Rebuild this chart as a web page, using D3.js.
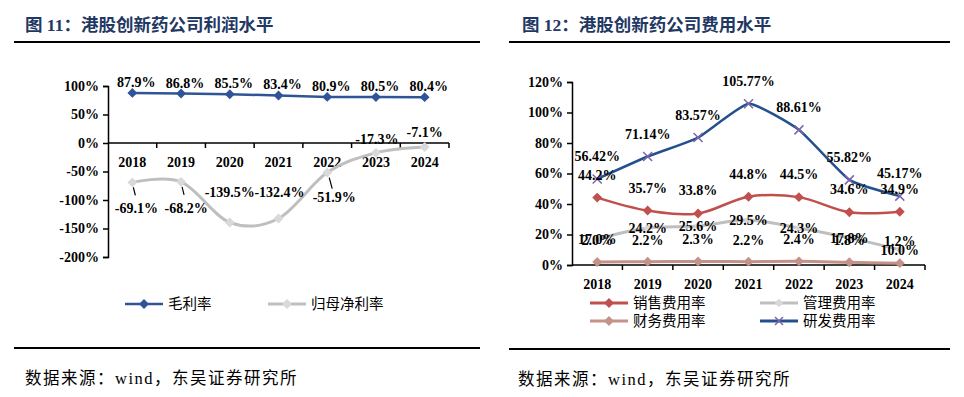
<!DOCTYPE html>
<html>
<head>
<meta charset="utf-8">
<script src="https://cdn.jsdelivr.net/npm/d3@7"></script>
<style>
  body { margin: 0; background: #fff; }
  svg { display: block; }
  .num { font-family: "Liberation Serif", "Times New Roman", serif; font-weight: bold; fill: #000; }
</style>
</head>
<body>
<script>
// ---- data ----
var years = ["2018", "2019", "2020", "2021", "2022", "2023", "2024"];

// figure 11
var grossMargin = [87.9, 86.8, 85.5, 83.4, 80.9, 80.5, 80.4];
var netMargin = [-69.1, -68.2, -139.5, -132.4, -51.9, -17.3, -7.1];
var leftTicks = [100, 50, 0, -50, -100, -150, -200];

// figure 12
var salesRate = [44.2, 35.7, 33.8, 44.8, 44.5, 34.6, 34.9];
var adminRate = [17.0, 24.2, 25.6, 29.5, 24.3, 17.8, 10.0];
var financeRate = [2.0, 2.2, 2.3, 2.2, 2.4, 1.8, 1.2];
var rdRate = [56.42, 71.14, 83.57, 105.77, 88.61, 55.82, 45.17];
var rightTicks = [0, 20, 40, 60, 80, 100, 120];

var W = 964, H = 397;
var svg = d3.select("body").append("svg").attr("width", W).attr("height", H);

var navy = "#1f3864";
var blue = "#2f5597";
var gray = "#bfbfbf";
var lightGray = "#d9d9d9";
var red = "#c0504d";
var rose = "#c4918b";
var rdBlue = "#24508f";
var purple = "#7a66a8";

var smooth = d3.curveCardinal.tension(0);

function header(x0, x1, tx, label) {
  svg.append("text").attr("x", tx).attr("y", 31)
    .attr("font-family", "'Liberation Serif', 'Noto Sans CJK SC', serif")
    .attr("font-weight", "bold").attr("font-size", 17.5).attr("fill", navy)
    .text(label);
  svg.append("line").attr("x1", x0).attr("x2", x1).attr("y1", 42).attr("y2", 42)
    .attr("stroke", "#000").attr("stroke-width", 2);
}

function footer(x0, x1, yLine, tx) {
  svg.append("line").attr("x1", x0).attr("x2", x1).attr("y1", yLine).attr("y2", yLine)
    .attr("stroke", "#000").attr("stroke-width", 2);
  svg.append("text").attr("x", tx).attr("y", yLine + 36)
    .attr("font-family", "'Liberation Serif', 'Noto Sans CJK SC', serif")
    .attr("font-size", 16.5).attr("letter-spacing", 1.5).attr("fill", "#000")
    .text("数据来源：wind，东吴证券研究所");
}

function diamond(g, cx, cy, size, color) {
  g.append("path")
    .attr("d", d3.symbol(d3.symbolSquare, size * size)())
    .attr("transform", "translate(" + cx + "," + cy + ") rotate(45)")
    .attr("fill", color);
}

function cross(g, cx, cy, r, color) {
  var p = d3.path();
  p.moveTo(cx - r, cy - r); p.lineTo(cx + r, cy + r);
  p.moveTo(cx - r, cy + r); p.lineTo(cx + r, cy - r);
  g.append("path").attr("d", p.toString()).attr("stroke", color)
    .attr("stroke-width", 1.5).attr("fill", "none");
}

// ================= Figure 11 =================
header(14, 480, 25, "图 11：港股创新药公司利润水平");
footer(14, 480, 348, 25);

var g1 = svg.append("g");
var x1 = d3.scaleBand().domain(years).range([108, 449]);
var y1 = d3.scaleLinear().domain([-200, 100]).range([257, 86]);
var cx1 = function (i) { return x1(years[i]) + x1.bandwidth() / 2; };

// y axis
g1.append("g").attr("transform", "translate(108,0)")
  .call(d3.axisLeft(y1).tickValues(leftTicks).tickSize(5).tickFormat(function (d) { return d + "%"; }))
  .call(function (a) {
    a.select(".domain").attr("stroke", "#000").attr("stroke-width", 1.5);
    a.selectAll(".tick line").attr("stroke", "#000").attr("stroke-width", 1.5);
    a.selectAll(".tick text").attr("class", "num").attr("font-size", 14).attr("x", -9);
  });

// x axis at 0
var zero1 = y1(0);
g1.append("line").attr("x1", 108).attr("x2", 449).attr("y1", zero1).attr("y2", zero1)
  .attr("stroke", "#000").attr("stroke-width", 1.5);
years.forEach(function (yr, i) {
  var bx = x1(yr) + x1.bandwidth();
  g1.append("line").attr("x1", bx).attr("x2", bx).attr("y1", zero1).attr("y2", zero1 + 5)
    .attr("stroke", "#000").attr("stroke-width", 1.5);
  g1.append("text").attr("class", "num").attr("font-size", 14)
    .attr("x", cx1(i)).attr("y", zero1 + 24).attr("text-anchor", "middle").text(yr);
});

// net margin (smoothed, gray)
g1.append("path").datum(netMargin)
  .attr("d", d3.line().x(function (d, i) { return cx1(i); }).y(function (d) { return y1(d); }).curve(smooth))
  .attr("fill", "none").attr("stroke", gray).attr("stroke-width", 3);
netMargin.forEach(function (v, i) { diamond(g1, cx1(i), y1(v), 7, lightGray); });

// gross margin
g1.append("path").datum(grossMargin)
  .attr("d", d3.line().x(function (d, i) { return cx1(i); }).y(function (d) { return y1(d); }))
  .attr("fill", "none").attr("stroke", blue).attr("stroke-width", 2.5);
grossMargin.forEach(function (v, i) { diamond(g1, cx1(i), y1(v), 7, blue); });

// labels
grossMargin.forEach(function (v, i) {
  g1.append("text").attr("class", "num").attr("font-size", 14).attr("text-anchor", "middle")
    .attr("x", cx1(i) + 4).attr("y", y1(v) - 6).text(v.toFixed(1) + "%");
});
// net labels: offsets below / above point
var netLabelDx = [4, 5, 0, 1, 7, 1, 0];
var netLabelDy = [26, 26, 23, 17, 24, -14, -15];
netMargin.forEach(function (v, i) {
  var px = cx1(i), py = y1(v);
  var lx = px + netLabelDx[i], ly = py + netLabelDy[i];
  if (i === 2 || i === 3) ly = y1(v) - (v === -139.5 ? 31 : 26);
  g1.append("text").attr("class", "num").attr("font-size", 14).attr("text-anchor", "middle")
    .attr("x", lx).attr("y", ly + 5).text(v.toFixed(1) + "%");
});
// leader lines
[[0, 1, 3], [1, 1, 3], [4, 2, 5]].forEach(function (t) {
  var i = t[0], px = cx1(i), py = y1(netMargin[i]);
  g1.append("line").attr("x1", px + t[1]).attr("y1", py + 5)
    .attr("x2", px + t[2]).attr("y2", py + (i === 4 ? 16 : 13))
    .attr("stroke", "#000").attr("stroke-width", 1.2);
});

// legend 1
var lg1 = svg.append("g");
lg1.append("line").attr("x1", 125).attr("x2", 163).attr("y1", 304).attr("y2", 304).attr("stroke", blue).attr("stroke-width", 2.5);
diamond(lg1, 144, 304, 7, blue);
lg1.append("text").attr("x", 168).attr("y", 309).attr("font-family", "'Noto Sans CJK SC', sans-serif").attr("font-size", 14.5).text("毛利率");
lg1.append("line").attr("x1", 268).attr("x2", 306).attr("y1", 304).attr("y2", 304).attr("stroke", gray).attr("stroke-width", 3);
diamond(lg1, 287, 304, 7, lightGray);
lg1.append("text").attr("x", 311).attr("y", 309).attr("font-family", "'Noto Sans CJK SC', sans-serif").attr("font-size", 14.5).text("归母净利率");

// ================= Figure 12 =================
header(509, 950, 522, "图 12：港股创新药公司费用水平");
footer(509, 950, 349, 518);

var g2 = svg.append("g");
var x2 = d3.scaleBand().domain(years).range([572, 925]);
var y2 = d3.scaleLinear().domain([0, 120]).range([265, 82]);
var cx2 = function (i) { return x2(years[i]) + x2.bandwidth() / 2; };

g2.append("g").attr("transform", "translate(572,0)")
  .call(d3.axisLeft(y2).tickValues(rightTicks).tickSize(5).tickFormat(function (d) { return d + "%"; }))
  .call(function (a) {
    a.select(".domain").attr("stroke", "#000").attr("stroke-width", 1.5);
    a.selectAll(".tick line").attr("stroke", "#000").attr("stroke-width", 1.5);
    a.selectAll(".tick text").attr("class", "num").attr("font-size", 14).attr("x", -9);
  });
g2.append("line").attr("x1", 572).attr("x2", 925).attr("y1", 265).attr("y2", 265)
  .attr("stroke", "#000").attr("stroke-width", 1.5);
years.forEach(function (yr, i) {
  var bx = x2(yr) + x2.bandwidth();
  g2.append("line").attr("x1", bx).attr("x2", bx).attr("y1", 265).attr("y2", 270)
    .attr("stroke", "#000").attr("stroke-width", 1.5);
  g2.append("text").attr("class", "num").attr("font-size", 14)
    .attr("x", cx2(i)).attr("y", 289).attr("text-anchor", "middle").text(yr);
});

function seriesLine(data, color, width, curve) {
  var ln = d3.line().x(function (d, i) { return cx2(i); }).y(function (d) { return y2(d); });
  if (curve) ln.curve(curve);
  g2.append("path").datum(data).attr("d", ln)
    .attr("fill", "none").attr("stroke", color).attr("stroke-width", width);
}

seriesLine(financeRate, rose, 3, smooth);
financeRate.forEach(function (v, i) { diamond(g2, cx2(i), y2(v), 7, rose); });
seriesLine(adminRate, gray, 3, smooth);
adminRate.forEach(function (v, i) { diamond(g2, cx2(i), y2(v), 6, lightGray); });
seriesLine(salesRate, red, 2.5, smooth);
salesRate.forEach(function (v, i) { diamond(g2, cx2(i), y2(v), 7, red); });
seriesLine(rdRate, rdBlue, 2.5, d3.curveCardinal.tension(0.55));
rdRate.forEach(function (v, i) { cross(g2, cx2(i), y2(v), 4.5, purple); });

function labels(data, dy, digits) {
  data.forEach(function (v, i) {
    g2.append("text").attr("class", "num").attr("font-size", 14).attr("text-anchor", "middle")
      .attr("x", cx2(i)).attr("y", y2(v) + dy + 5).text(v.toFixed(digits) + "%");
  });
}
labels(rdRate, -23, 2);
labels(salesRate, -23, 1);
labels(adminRate, 0, 1);
labels(financeRate, -22, 1);

// legend 2
var lg2 = svg.append("g");
var legendItems = [
  { name: "销售费用率", color: red, mark: "d", x: 590, y: 303 },
  { name: "管理费用率", color: gray, mark: "g", x: 760, y: 303 },
  { name: "财务费用率", color: rose, mark: "d", x: 590, y: 321 },
  { name: "研发费用率", color: rdBlue, mark: "x", x: 760, y: 321 }
];
legendItems.forEach(function (it) {
  lg2.append("line").attr("x1", it.x).attr("x2", it.x + 38).attr("y1", it.y).attr("y2", it.y)
    .attr("stroke", it.color).attr("stroke-width", 3);
  if (it.mark === "x") cross(lg2, it.x + 19, it.y, 4, purple);
  else if (it.mark === "g") diamond(lg2, it.x + 19, it.y, 6, lightGray);
  else diamond(lg2, it.x + 19, it.y, 7, it.color);
  lg2.append("text").attr("x", it.x + 43).attr("y", it.y + 5)
    .attr("font-family", "'Noto Sans CJK SC', sans-serif").attr("font-size", 14.5).text(it.name);
});
</script>
</body>
</html>
